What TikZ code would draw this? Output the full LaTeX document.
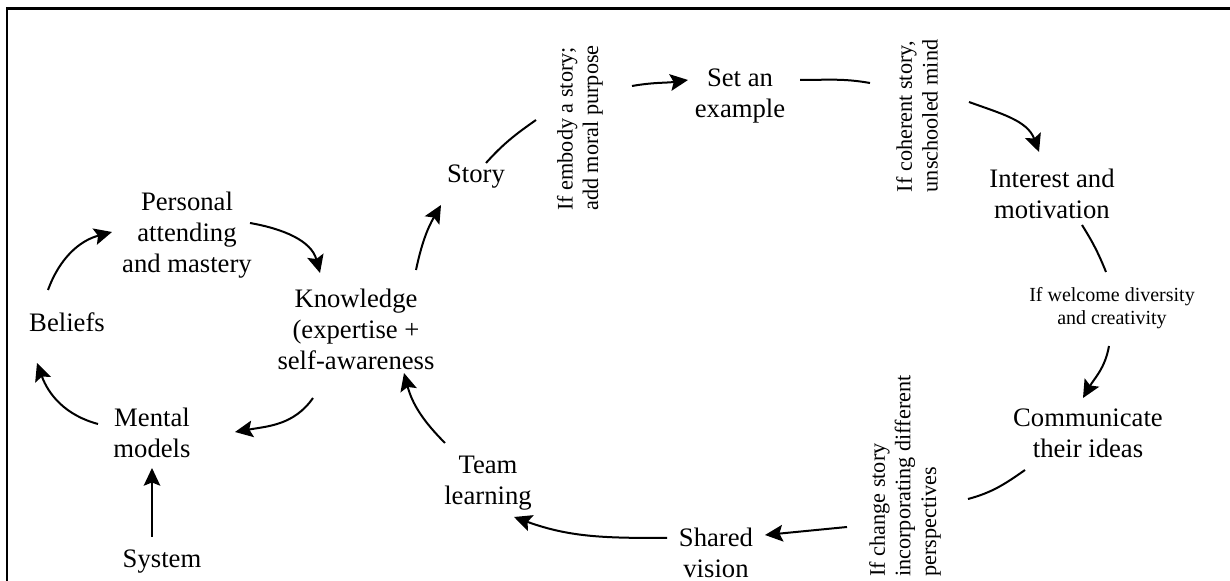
\documentclass[tikz,border=0pt]{standalone}
\usepackage{fontspec}
\setmainfont{Liberation Serif}
\usetikzlibrary{arrows.meta,calc}

\begin{document}
\begin{tikzpicture}[x=0.45pt, y=0.45pt]
    \tikzstyle{concept} = [align=center, inner sep=1pt, font=\fontsize{12}{14}\selectfont]
    \tikzstyle{cond} = [align=left, rotate=90, inner sep=1pt, font=\fontsize{10}{11.5}\selectfont]
    \tikzstyle{arrow} = [-{Stealth[length=8pt, width=7.5pt, inset=1.5pt]}, line width=0.9pt]
    \tikzstyle{link} = [line width=0.9pt]

    \useasboundingbox (0,0) rectangle (1230,581);
    \draw[line width=1.2pt] (7,-10) -- (7,572.5) -- (1240,572.5);

    % inner loop
    \node[concept] (pers) at (187, 346) {Personal\\attending\\and mastery};
    \node[concept] (beliefs) at (67, 259) {Beliefs};
    \node[concept] (know) at (356, 252) {Knowledge\\(expertise +\\self-awareness};
    \node[concept] (mental) at (152, 148) {Mental\\models};
    \node[concept] (system) at (162, 19) {System};

    % outer loop
    \node[concept] (story) at (476, 404) {Story};
    \node[concept] (setex) at (740, 485) {Set an\\example};
    \node[concept] (interest) at (1052, 387) {Interest and\\motivation};
    \node[concept] (comm) at (1088, 148) {Communicate\\their ideas};
    \node[concept] (shared) at (716, 28) {Shared\\vision};
    \node[concept] (team) at (488, 98) {Team\\learning};

    % conditions
    \node[cond] (embody) at (580, 453) {If embody a story;\\add moral purpose};
    \node[cond] (coherent) at (917, 465) {If coherent story,\\unschooled mind};
    \node[cond] (change) at (905, 105) {If change story\\incorporating different\\perspectives};
    \node[align=center, font=\fontsize{9}{10.4}\selectfont] (welcome) at (1112, 273) {If welcome diversity\\and creativity};

    \draw[arrow] ($(beliefs)+(-19,32)$) to[out=70, in=195] ($(pers)+(-75,3)$);
    \draw[arrow] ($(pers)+(63,12)$) to[out=-10, in=105] ($(know)+(-36,56)$);
    \draw[arrow] ($(know)+(60,59)$) to[out=78, in=240] ($(story)+(-35,-28)$);
    \draw[link] ($(story)+(10,14)$) to[out=48, in=215] ($(embody)+(-44,8)$);
    \draw[arrow] ($(embody)+(52,42)$) to[out=10, in=188] ($(setex)+(-52,16)$);
    \draw[link] ($(setex)+(60,16)$) to[out=0, in=170] ($(coherent)+(-47,33)$);
    \draw[arrow] ($(coherent)+(52,14)$) to[out=-20, in=110] ($(interest)+(-13,42)$);
    \draw[link] ($(interest)+(30,-31)$) to[out=-58, in=112] ($(welcome)+(-6,36)$);
    \draw[arrow] ($(welcome)+(-3,-38)$) to[out=-100, in=60] ($(comm)+(-5,35)$);
    \draw[link] ($(comm)+(-63,-37)$) to[out=215, in=15] ($(change)+(63,-23)$);
    \draw[arrow] ($(change)+(-58,-51)$) -- ($(shared)+(49,18)$);
    \draw[arrow] ($(shared)+(-49,15)$) to[out=180, in=-20] ($(team)+(26,-34)$);
    \draw[arrow] ($(team)+(-43,40)$) to[out=135, in=-75] ($(know)+(48,-44)$);
    \draw[arrow] ($(know)+(-43,-69)$) to[out=-125, in=10] ($(mental)+(83,1)$);
    \draw[arrow] ($(mental)+(-54,9)$) to[out=165, in=-70] ($(beliefs)+(-30,-41)$);
    \draw[arrow, line width=0.6pt] ($(system)+(-10,25)$) -- ($(mental)+(0,-35)$);
\end{tikzpicture}
\end{document}
